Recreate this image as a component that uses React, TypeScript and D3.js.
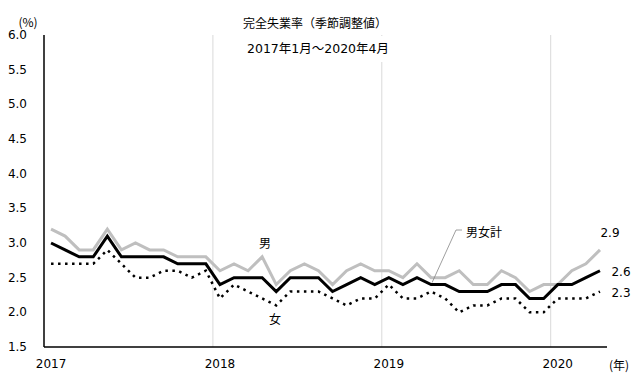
import React from "react";
import * as d3 from "d3";

const months = [
  "2017-01","2017-02","2017-03","2017-04","2017-05","2017-06","2017-07","2017-08","2017-09","2017-10","2017-11","2017-12",
  "2018-01","2018-02","2018-03","2018-04","2018-05","2018-06","2018-07","2018-08","2018-09","2018-10","2018-11","2018-12",
  "2019-01","2019-02","2019-03","2019-04","2019-05","2019-06","2019-07","2019-08","2019-09","2019-10","2019-11","2019-12",
  "2020-01","2020-02","2020-03","2020-04",
];

const total = [
  3.0, 2.9, 2.8, 2.8, 3.1, 2.8, 2.8, 2.8, 2.8, 2.7, 2.7, 2.7,
  2.4, 2.5, 2.5, 2.5, 2.3, 2.5, 2.5, 2.5, 2.3, 2.4, 2.5, 2.4,
  2.5, 2.4, 2.5, 2.4, 2.4, 2.3, 2.3, 2.3, 2.4, 2.4, 2.2, 2.2,
  2.4, 2.4, 2.5, 2.6,
];
const male = [
  3.2, 3.1, 2.9, 2.9, 3.2, 2.9, 3.0, 2.9, 2.9, 2.8, 2.8, 2.8,
  2.6, 2.7, 2.6, 2.8, 2.4, 2.6, 2.7, 2.6, 2.4, 2.6, 2.7, 2.6,
  2.6, 2.5, 2.7, 2.5, 2.5, 2.6, 2.4, 2.4, 2.6, 2.5, 2.3, 2.4,
  2.4, 2.6, 2.7, 2.9,
];
const female = [
  2.7, 2.7, 2.7, 2.7, 2.9, 2.7, 2.5, 2.5, 2.6, 2.6, 2.5, 2.6,
  2.2, 2.4, 2.3, 2.2, 2.1, 2.3, 2.3, 2.3, 2.2, 2.1, 2.2, 2.2,
  2.4, 2.2, 2.2, 2.3, 2.2, 2.0, 2.1, 2.1, 2.2, 2.2, 2.0, 2.0,
  2.2, 2.2, 2.2, 2.3,
];

const yTicks = [1.5, 2.0, 2.5, 3.0, 3.5, 4.0, 4.5, 5.0, 5.5, 6.0];
const yearLabels = ["2017", "2018", "2019", "2020"];

const title = "完全失業率（季節調整値）";
const subtitle = "2017年1月～2020年4月";

const W = 643;
const H = 378;
const NUM_FONT = "'DejaVu Sans', 'Noto Sans CJK JP', sans-serif";
const JP_FONT = "'Noto Sans CJK JP', sans-serif";

export default function App() {
  const x = d3.scaleBand<string>().domain(months).range([44, 607]).padding(0);
  const y = d3.scaleLinear().domain([1.5, 6.0]).range([347, 35]);
  const cx = (i: number) => (x(months[i]) as number) + x.bandwidth() / 2;

  const line = d3
    .line<number>()
    .x((_, i) => cx(i))
    .y((d) => y(d));

  const yearStarts = yearLabels.map((yr) => months.indexOf(yr + "-01"));
  const last = months.length - 1;

  return (
    <svg
      width={W}
      height={H}
      style={{ position: "absolute", left: 0, top: 0, background: "#fff" }}
    >
      <rect x={0} y={0} width={W} height={H} fill="#fff" />
      {/* vertical gridlines at year boundaries */}
      {yearStarts.slice(1).map((idx, k) => (
        <line
          key={k}
          x1={x(months[idx]) as number}
          x2={x(months[idx]) as number}
          y1={y(6.0)}
          y2={y(1.5)}
          stroke="#d9d9d9"
          strokeWidth={1}
        />
      ))}
      {/* subtitle box covering gridline */}
      <rect x={240} y={36} width={152} height={26} fill="#fff" />

      {/* axes */}
      <line x1={44} x2={44} y1={y(6.0)} y2={y(1.5)} stroke="#000" strokeWidth={1.5} />
      <line x1={44} x2={607} y1={y(1.5)} y2={y(1.5)} stroke="#000" strokeWidth={1.5} />

      {yTicks.map((t) => (
        <text
          key={t}
          x={27}
          y={y(t)}
          textAnchor="end"
          dominantBaseline="central"
          fontSize={12}
          fontFamily={NUM_FONT}
          fill="#000"
        >
          {t.toFixed(1)}
        </text>
      ))}
      <text x={28} y={21} textAnchor="middle" dominantBaseline="central" fontSize={12} fontFamily={JP_FONT}>
        (%)
      </text>

      {yearLabels.map((yr, k) => (
        <text
          key={yr}
          x={cx(yearStarts[k])}
          y={364}
          textAnchor="middle"
          dominantBaseline="central"
          fontSize={12}
          fontFamily={NUM_FONT}
        >
          {yr}
        </text>
      ))}
      <text x={619} y={364} textAnchor="middle" dominantBaseline="central" fontSize={12} fontFamily={JP_FONT}>
        (年)
      </text>

      {/* titles */}
      <text x={315} y={22} textAnchor="middle" dominantBaseline="central" fontSize={12} fontFamily={JP_FONT}>
        {title}
      </text>
      <text x={318} y={48} textAnchor="middle" dominantBaseline="central" fontSize={12.5} fontFamily={NUM_FONT}>
        {subtitle}
      </text>

      {/* series */}
      <path d={line(male) || ""} fill="none" stroke="#bfbfbf" strokeWidth={3} strokeLinejoin="miter" />
      <path d={line(total) || ""} fill="none" stroke="#000" strokeWidth={3} strokeLinejoin="miter" />
      <path
        d={line(female) || ""}
        fill="none"
        stroke="#000"
        strokeWidth={2.5}
        strokeDasharray="2.5 4.5"
      />

      {/* annotations */}
      <text x={265} y={242} textAnchor="middle" dominantBaseline="central" fontSize={12} fontFamily={JP_FONT}>
        男
      </text>
      <text x={275} y={318} textAnchor="middle" dominantBaseline="central" fontSize={12} fontFamily={JP_FONT}>
        女
      </text>
      <polyline
        points={`462,230 456,230 ${cx(27) + 1},${y(total[27]) - 2}`}
        fill="none"
        stroke="#7f7f7f"
        strokeWidth={0.75}
      />
      <text x={466} y={231} dominantBaseline="central" fontSize={12} fontFamily={JP_FONT}>
        男女計
      </text>

      <text x={610} y={233} textAnchor="middle" dominantBaseline="central" fontSize={12} fontFamily={NUM_FONT}>
        {male[last].toFixed(1)}
      </text>
      <text x={621} y={272} textAnchor="middle" dominantBaseline="central" fontSize={12} fontFamily={NUM_FONT}>
        {total[last].toFixed(1)}
      </text>
      <text x={621} y={293} textAnchor="middle" dominantBaseline="central" fontSize={12} fontFamily={NUM_FONT}>
        {female[last].toFixed(1)}
      </text>
    </svg>
  );
}
